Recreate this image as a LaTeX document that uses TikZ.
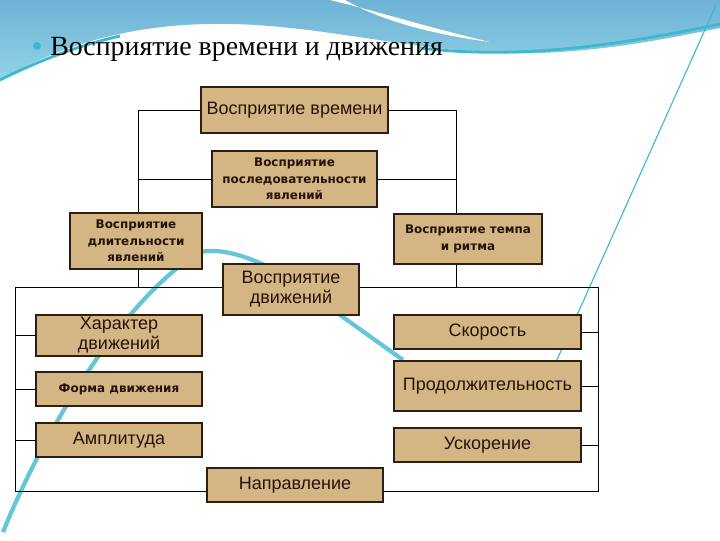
\documentclass[tikz,border=0pt]{standalone}
\usepackage{fontspec}
\setmainfont{Liberation Serif}
\setsansfont{Liberation Sans}
\newfontfamily\verdfont{DejaVu Sans}

\definecolor{beige}{RGB}{212,182,132}
\definecolor{ramka}{RGB}{45,30,15}
\definecolor{tekst}{RGB}{40,18,8}
\definecolor{niebo}{RGB}{110,178,214}
\definecolor{niebo2}{RGB}{145,212,230}
\definecolor{fala}{RGB}{60,185,208}

\tikzset{
  blok/.style 2 args={draw=ramka, fill=beige, line width=1pt, text=tekst,
    align=center, inner sep=0pt, minimum width=#1*0.025cm, minimum height=#2*0.025cm},
  duzy/.style={font=\sffamily\fontsize{12.8}{14.2}\selectfont},
  maly/.style={font=\verdfont\bfseries\fontsize{8.5}{11.7}\selectfont},
  linia/.style={line width=0.7pt, black}
}

\begin{document}
\begin{tikzpicture}[x=0.025cm,y=-0.025cm]
    \useasboundingbox (0,0) rectangle (720,540);

    % Tło slajdu
    \fill[white] (0,0) rectangle (720,540);
    \shade[top color=niebo, bottom color=niebo2] (0,0) -- (720,0) -- (720,28)
        .. controls (650,42) and (570,58) .. (480,52)
        .. controls (390,46) and (300,22) .. (210,24)
        .. controls (130,25) and (60,45) .. (0,80) -- cycle;
    \fill[white] (330,0) .. controls (380,12) and (430,28) .. (490,42)
        .. controls (430,34) and (380,20) .. (345,0) -- cycle;
    \draw[fala, line width=2pt] (420,48) .. controls (520,60) and (620,45) .. (720,24);
    \draw[fala, line width=2pt] (0,80) .. controls (40,60) and (80,45) .. (120,36);
    \draw[fala, line width=0.8pt] (716,5) -- (556,362);
    \draw[fala, line width=3pt, opacity=0.8] (3,532) .. controls (40,440) and (120,300) .. (200,252)
        .. controls (230,246) and (280,265) .. (340,315) -- (403,360);

    % Tytuł
    \fill[fala] (37,46) circle (2.8pt);
    \node[anchor=base west, inner sep=0pt, font=\fontsize{19.8}{24}\selectfont] (tytul) at (50,55)
        {Восприятие времени и движения};

    % Ramka dolnej części
    \coordinate (lsz) at (138,105);
    \coordinate (psz) at (456,105);
    \coordinate (rg) at (15,287);
    \coordinate (rd) at (598,491);
    \draw[linia] (rg) rectangle (rd);

    % Восприятие времени
    \node[blok={187}{46}, duzy] (czas) at (294.5,110) {Восприятие времени};
    \node[blok={165}{56}, maly] (kolej) at (294.5,179) {Восприятие\\последовательности\\явлений};
    \node[blok={132}{56}, maly] (dlug) at (136,241) {Восприятие\\длительности\\явлений};
    \node[blok={148}{50}, maly] (tempo) at (468,239) {Восприятие темпа\\и ритма};

    % Восприятие движений
    \node[blok={136}{51}, duzy] (ruch) at (291,289.5) {Восприятие\\движений};
    \node[blok={166}{41}, duzy] (char) at (119,335.5) {Характер\\движений};
    \node[blok={166}{34}, maly] (forma) at (119,389) {Форма движения};
    \node[blok={166}{34}, duzy] (ampl) at (119,440) {Амплитуда};
    \node[blok={176}{34}, duzy] (kier) at (295,485) {Направление};
    \node[blok={187}{34}, duzy] (pred) at (487.5,332) {Скорость};
    \node[blok={187}{50}, duzy] (trw) at (487.5,386) {Продолжительность};
    \node[blok={187}{34}, duzy] (przysp) at (487.5,445) {Ускорение};

    % Połączenia
    \draw[linia] (czas.west) -| (lsz |- dlug.north);
    \draw[linia] (czas.east) -| (psz |- tempo.north);
    \draw[linia] (kolej.west) -- (kolej.west -| lsz);
    \draw[linia] (kolej.east) -- (kolej.east -| psz);
    \draw[linia] (lsz |- dlug.south) -- (lsz |- rg);
    \draw[linia] (psz |- tempo.south) -- (psz |- rg);
    \draw[linia] (char.west) -- (char.west -| rg);
    \draw[linia] (forma.west) -- (forma.west -| rg);
    \draw[linia] (ampl.west) -- (ampl.west -| rg);
    \draw[linia] (pred.east) -- (pred.east -| rd);
    \draw[linia] (trw.east) -- (trw.east -| rd);
    \draw[linia] (przysp.east) -- (przysp.east -| rd);
\end{tikzpicture}
\end{document}
